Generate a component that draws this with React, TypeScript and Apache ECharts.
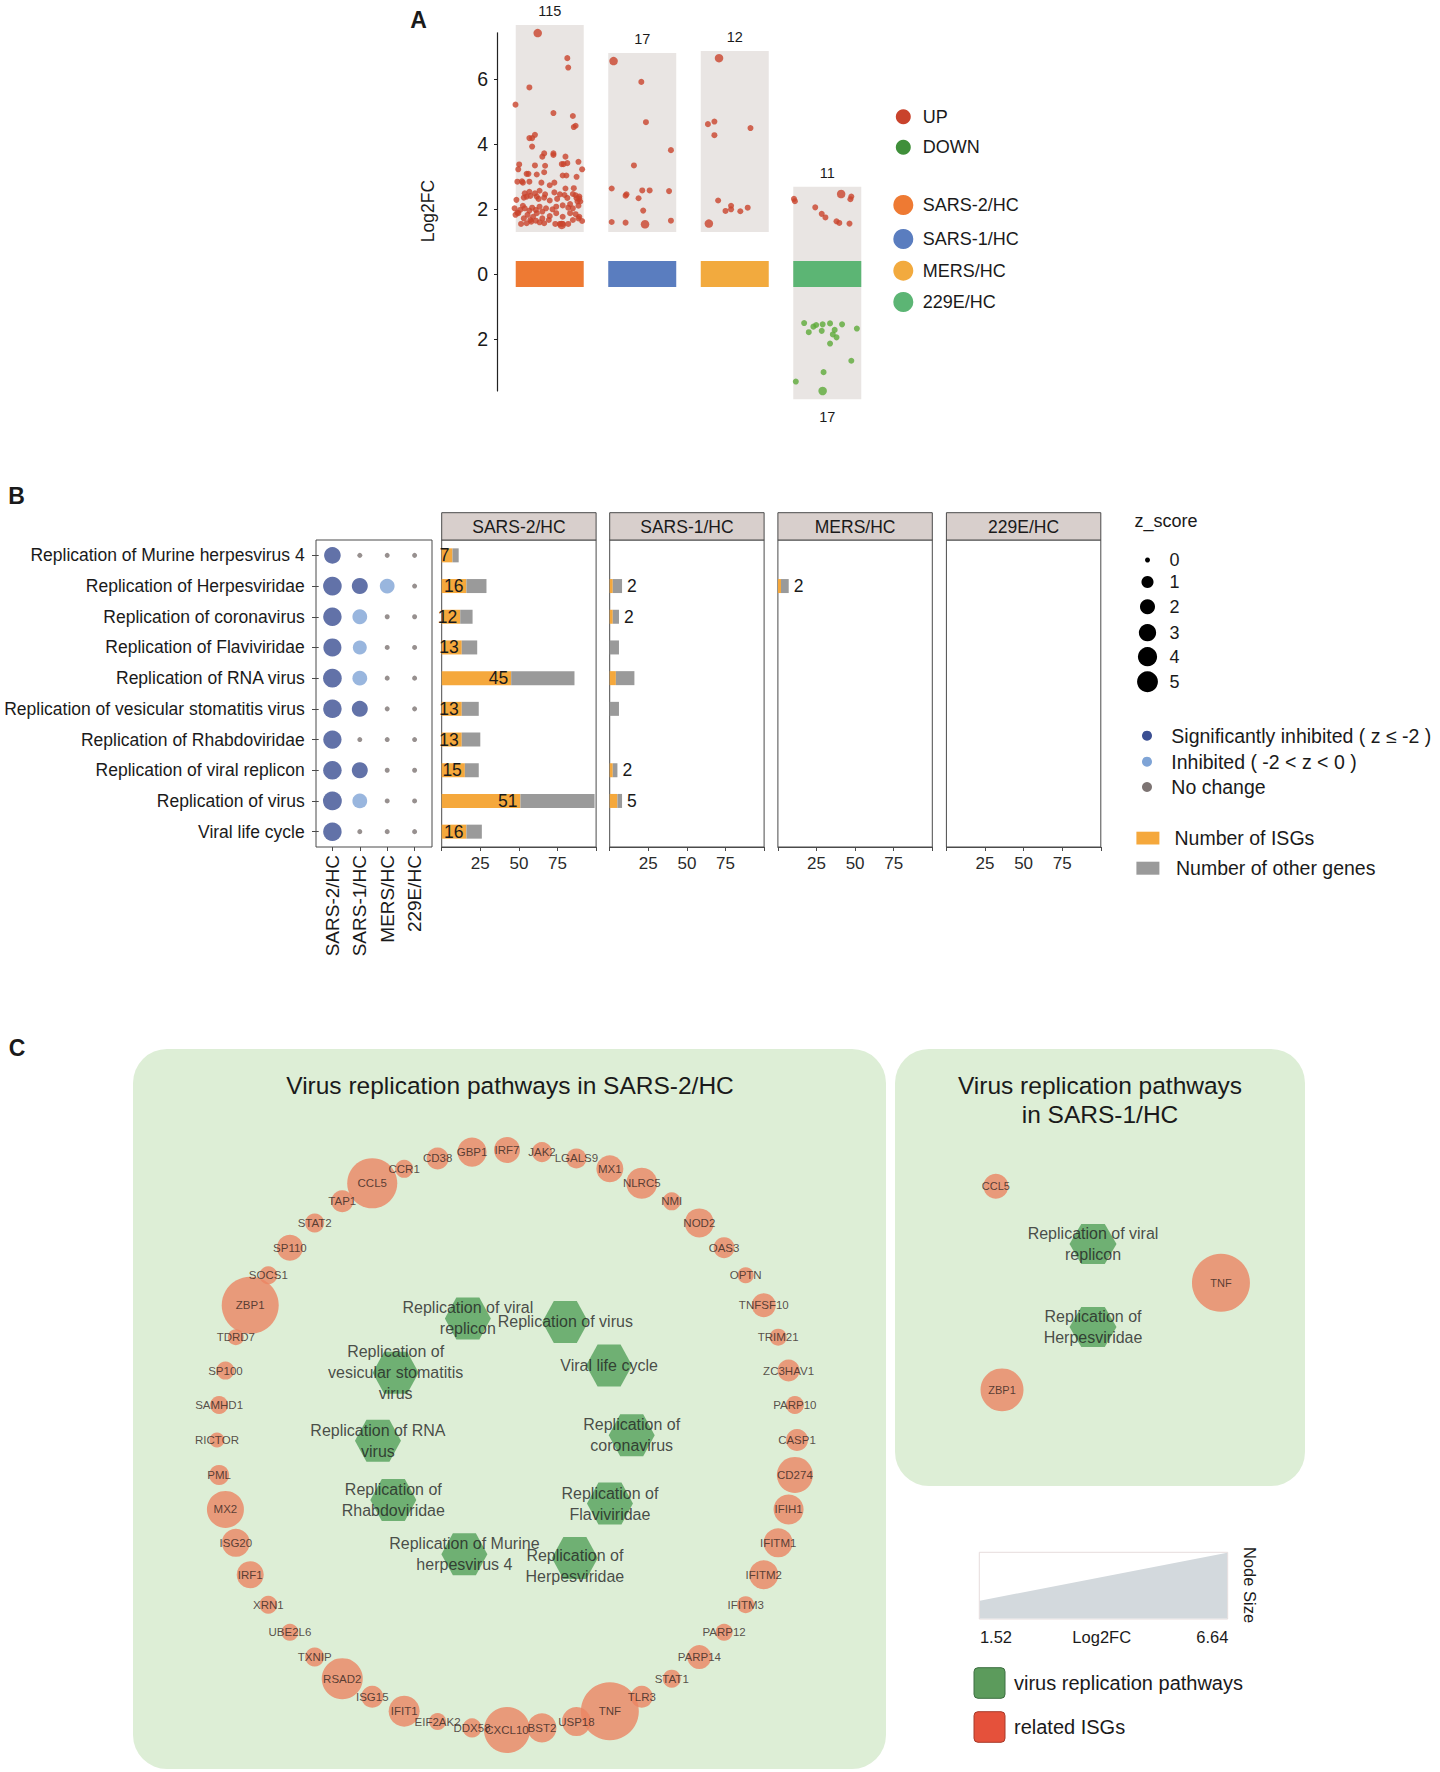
import React, { useEffect, useRef } from "react";
import * as echarts from "echarts";

const FONT = "'Liberation Sans', Arial, Helvetica, sans-serif";
const INK = "#1a1a1a";

// ---------------- Panel A data ----------------
const groups = ["SARS-2/HC", "SARS-1/HC", "MERS/HC", "229E/HC"];
const groupColors = ["#ee7a33", "#5a7dbf", "#f2aa3e", "#5cb574"];
const upCounts = [115, 17, 12, 11];
const downCounts = [0, 0, 0, 17];
const boxTop = [7.66, 6.8, 6.86, 2.68];
const boxBottom = [1.29, 1.29, 1.29, -3.85];

// [jitter, log2FC, bigDot]
const upSars2 = [
  [-0.13, 7.41, 1], [0.19, 6.64, 0], [0.2, 6.35, 0], [-0.22, 5.74, 0], [-0.37, 5.21, 0], [0.04, 4.95, 0], [0.25, 4.86, 0],
  [0.28, 4.56, 0], [0.26, 4.52, 0], [-0.22, 4.18, 0], [-0.19, 4.18, 0], [-0.16, 4.28, 0], [-0.19, 3.92, 0],
  [-0.06, 3.71, 0], [-0.08, 3.61, 0], [0.04, 3.71, 0], [0.04, 3.66, 0], [0.17, 3.61, 0], [0.31, 3.45, 0],
  [-0.33, 3.37, 0], [-0.34, 3.22, 0], [-0.16, 3.34, 0], [-0.05, 3.33, 0], [0.13, 3.38, 0], [0.15, 3.38, 0], [0.19, 3.41, 0], [0.35, 3.22, 0],
  [-0.25, 3.08, 0], [-0.23, 3.08, 0], [-0.14, 3.06, 0], [-0.06, 3.13, 0], [0.14, 3.03, 0], [0.18, 3.03, 0], [0.29, 2.99, 0],
  [-0.35, 2.84, 0], [-0.3, 2.85, 0], [-0.29, 2.81, 0], [-0.22, 2.84, 0], [-0.09, 2.81, 0], [0.0, 2.73, 0], [0.05, 2.81, 0], [0.26, 2.64, 0], [0.17, 2.63, 0],
  [-0.27, 2.48, 0], [-0.22, 2.53, 0], [-0.16, 2.48, 0], [-0.11, 2.56, 0], [-0.05, 2.45, 0], [0.05, 2.51, 0], [0.11, 2.45, 0], [0.25, 2.46, 0], [0.32, 2.38, 0],
  [-0.36, 2.28, 0], [-0.28, 2.35, 0], [-0.25, 2.38, 0], [-0.21, 2.4, 0], [-0.14, 2.38, 0], [-0.12, 2.31, 0], [-0.06, 2.35, 0], [0.0, 2.26, 0],
  [0.08, 2.31, 0], [0.16, 2.43, 0], [0.19, 2.34, 0], [0.28, 2.42, 0], [0.3, 2.23, 0], [0.32, 2.32, 0], [0.29, 2.33, 0],
  [-0.38, 2.02, 0], [-0.35, 1.89, 0], [-0.32, 1.97, 0], [-0.29, 2.1, 0], [-0.27, 2.02, 0], [-0.22, 1.95, 0], [-0.19, 2.04, 0], [-0.15, 1.97, 0],
  [-0.11, 2.07, 0], [-0.08, 1.92, 0], [-0.04, 2.02, 0], [0.03, 1.99, 0], [0.07, 2.07, 0], [0.14, 2.11, 0], [0.2, 2.04, 0], [0.22, 2.15, 0],
  [0.25, 2.02, 0], [0.31, 2.1, 0], [0.33, 2.23, 0],
  [-0.37, 1.82, 0], [-0.34, 1.87, 0], [-0.28, 1.71, 0], [-0.24, 1.82, 0], [-0.21, 1.66, 0], [-0.18, 1.76, 0], [-0.14, 1.87, 0], [-0.08, 1.71, 0],
  [0.0, 1.78, 0], [0.07, 1.87, 0], [0.14, 1.76, 0], [0.22, 1.87, 0], [0.28, 1.84, 0], [0.32, 1.76, 0],
  [-0.31, 1.54, 0], [-0.25, 1.56, 0], [-0.2, 1.61, 0], [-0.15, 1.64, 0], [-0.11, 1.59, 0], [-0.06, 1.56, 0], [-0.01, 1.66, 0], [0.06, 1.54, 0],
  [0.11, 1.54, 0], [0.13, 1.51, 1], [0.14, 1.54, 0], [0.2, 1.54, 0], [0.25, 1.66, 0], [0.31, 1.71, 0], [0.35, 1.63, 0],
];
const upSars1 = [
  [-0.31, 6.55, 1], [-0.01, 5.91, 0], [0.04, 4.67, 0], [0.31, 3.81, 0], [-0.09, 3.34, 0], [-0.33, 2.63, 0], [-0.17, 2.45, 0], [-0.18, 2.41, 0],
  [0.0, 2.57, 0], [0.08, 2.57, 0], [0.29, 2.55, 0], [-0.04, 2.33, 0], [0.01, 1.95, 0], [-0.33, 1.6, 0], [-0.18, 1.58, 0], [0.03, 1.53, 1], [0.31, 1.64, 0],
];
const upMers = [
  [-0.17, 6.64, 1], [-0.29, 4.61, 0], [-0.22, 4.69, 0], [-0.22, 4.27, 0], [0.17, 4.49, 0], [-0.18, 2.26, 0],
  [-0.1, 1.94, 0], [-0.04, 2.1, 0], [-0.04, 1.99, 0], [0.06, 1.93, 0], [0.14, 2.04, 0], [-0.28, 1.55, 1],
];
const up229e = [
  [-0.36, 2.31, 0], [-0.35, 2.24, 0], [-0.13, 2.05, 0], [-0.06, 1.85, 0], [-0.02, 1.74, 0], [0.1, 1.62, 0],
  [0.13, 1.57, 0], [0.24, 1.55, 0], [0.15, 2.46, 1], [0.26, 2.38, 0], [0.25, 2.3, 0],
];
const down229e = [
  [-0.25, -1.51, 0], [-0.2, -1.79, 0], [-0.12, -1.57, 0], [-0.06, -1.75, 0], [-0.05, -1.55, 0], [0.03, -1.52, 0], [0.08, -1.72, 0],
  [0.06, -1.86, 0], [0.1, -1.95, 0], [0.16, -1.55, 0], [0.32, -1.68, 0], [0.03, -2.14, 0], [0.26, -2.67, 0], [-0.04, -3.02, 0],
  [-0.34, -3.31, 0], [-0.05, -3.6, 1], [-0.15, -1.62, 0],
];

// ---------------- Panel B data ----------------
const rowNames = [
  "Replication of Murine herpesvirus 4", "Replication of Herpesviridae", "Replication of coronavirus", "Replication of Flaviviridae",
  "Replication of RNA virus", "Replication of vesicular stomatitis virus", "Replication of Rhabdoviridae",
  "Replication of viral replicon", "Replication of virus", "Viral life cycle",
];
const zSars2 = [-2.7, -3.7, -3.6, -3.4, -3.7, -3.6, -3.5, -3.6, -3.8, -3.6];
const zSars1 = [0, -2.4, -1.9, -1.6, -1.9, -2.4, 0, -2.4, -1.9, 0];
const zMers = [0, -1.9, 0, 0, 0, 0, 0, 0, 0, 0];
const z229e = [0, 0, 0, 0, 0, 0, 0, 0, 0, 0];
const zLegend = [0, 1, 2, 3, 4, 5];

const isgSars2 = [7, 16, 12, 13, 45, 13, 13, 15, 51, 16];
const otherSars2 = [4, 13, 8, 10, 41, 11, 12, 9, 48, 10];
const isgSars1 = [0, 2, 2, 0, 4, 0, 0, 2, 5, 0];
const otherSars1 = [0, 6, 4, 6, 12, 6, 0, 3, 3, 0];
const labelledSars1 = [false, true, true, false, false, false, false, true, true, false];
const isgMers = [0, 2, 0, 0, 0, 0, 0, 0, 0, 0];
const otherMers = [0, 5, 0, 0, 0, 0, 0, 0, 0, 0];
const labelledMers = [false, true, false, false, false, false, false, false, false, false];
const isg229e = [0, 0, 0, 0, 0, 0, 0, 0, 0, 0];
const other229e = [0, 0, 0, 0, 0, 0, 0, 0, 0, 0];
const barTicks = [25, 50, 75];

// ---------------- Panel C data ----------------
const ringGenes = [
  "IRF7", "JAK2", "LGALS9", "MX1", "NLRC5", "NMI", "NOD2", "OAS3", "OPTN", "TNFSF10", "TRIM21", "ZC3HAV1", "PARP10",
  "CASP1", "CD274", "IFIH1", "IFITM1", "IFITM2", "IFITM3", "PARP12", "PARP14", "STAT1", "TLR3", "TNF", "USP18", "BST2",
  "CXCL10", "DDX58", "EIF2AK2", "IFIT1", "ISG15", "RSAD2", "TXNIP", "UBE2L6", "XRN1", "IRF1", "ISG20", "MX2", "PML",
  "RICTOR", "SAMHD1", "SP100", "TDRD7", "ZBP1", "SOCS1", "SP110", "STAT2", "TAP1", "CCL5", "CCR1", "CD38", "GBP1",
];
const ringFC = [
  2.83, 2.12, 2.12, 2.95, 3.43, 1.88, 3.19, 2.23, 1.64, 2.59, 1.76, 2.35, 1.88,
  2.35, 4.02, 3.31, 3.19, 3.19, 1.76, 1.76, 2.59, 1.88, 2.35, 6.64, 3.19, 3.19,
  5.21, 2.0, 1.76, 3.43, 2.35, 4.62, 2.0, 1.76, 1.88, 2.95, 3.07, 4.14, 2.12,
  1.52, 1.88, 1.88, 1.64, 6.52, 1.88, 2.83, 2.0, 2.35, 5.69, 1.88, 2.35, 3.19,
];
// pathway layout positions (ring radius = 1, centre = 0)
const pathX = [-0.147, 0.234, 0.43, 0.355, -0.445, -0.384, -0.392, -0.135, 0.201, 0.352];
const pathY = [-0.394, -0.407, 0.016, -0.219, -0.003, 0.232, -0.207, 0.419, 0.407, 0.257];
const pathLabels = [
  "Replication of Murine\nherpesvirus 4", "Replication of\nHerpesviridae", "Replication of\ncoronavirus", "Replication of\nFlaviviridae",
  "Replication of RNA\nvirus", "Replication of\nvesicular stomatitis\nvirus", "Replication of\nRhabdoviridae",
  "Replication of viral\nreplicon", "Replication of virus", "Viral life cycle",
];
const s1Genes = ["CCL5", "TNF", "ZBP1"];
const s1FC = [2.71, 6.64, 4.85];
const s1X = [0.246, 0.795, 0.261];
const s1Y = [0.314, 0.535, 0.78];
const s1Paths = ["Replication of viral\nreplicon", "Replication of\nHerpesviridae"];
const s1PathX = [0.483, 0.483];
const s1PathY = [0.446, 0.636];
const fcRange = [1.52, 6.64];

// ---------------- helpers ----------------
const HEX = "path://M0,0.866L0.5,0L1.5,0L2,0.866L1.5,1.732L0.5,1.732Z";
const nodeSize = (fc: number) => 15 + ((fc - fcRange[0]) / (fcRange[1] - fcRange[0])) * 43;
const dotSize = (z: number) => 5 + 7.1 * Math.sqrt(Math.abs(z));
const zColor = (z: number) => (z <= -2 ? "#3b4f92" : z < 0 ? "#7fa4d6" : "#7d7473");

const txt = (x: number, y: number, text: string, size: number, o: any = {}) => ({
  type: "text",
  x,
  y,
  z: 100,
  rotation: o.rotation || 0,
  style: {
    text,
    fill: o.color || INK,
    fontSize: size,
    fontFamily: FONT,
    fontWeight: o.weight || "normal",
    align: o.align || "left",
    textAlign: o.align || "left",
    verticalAlign: "middle",
    textVerticalAlign: "middle",
  },
});

export default function App() {
  const ref = useRef<HTMLDivElement>(null);
  useEffect(() => {
    document.body.style.margin = "0";
    if (!ref.current) return;
    const chart = echarts.init(ref.current, undefined, { renderer: "svg" });

    const BOX_W = 0.735;
    const panelLefts = [441.7, 609.7, 777.9, 946.4];
    const panelW = 154.4;
    const bTop = 540;
    const bH = 307;
    const lineC = "#4a4a4a";
    const dotLeft = 318.7, dotW = 109.6; // column centres; frame drawn 316..432

    const upSets = [upSars2, upSars1, upMers, up229e];
    const upData = upSets.flatMap((set, c) => set.map(([j, v, b]) => [c + j, v, b]));
    const downData = down229e.map(([j, v, b]) => [3 + j, v, b]);

    const zByGroup = [zSars2, zSars1, zMers, z229e];
    const dotData = zByGroup.flatMap((zs, c) =>
      zs.map((z, r) => ({ value: [c, r, z], itemStyle: { color: zColor(z) } }))
    );

    const barPanels = [
      { isg: isgSars2, other: otherSars2, inside: true, labelled: isgSars2.map(() => true) },
      { isg: isgSars1, other: otherSars1, inside: false, labelled: labelledSars1 },
      { isg: isgMers, other: otherMers, inside: false, labelled: labelledMers },
      { isg: isg229e, other: other229e, inside: false, labelled: isg229e.map(() => false) },
    ];

    const ringCx = 507, ringCy = 1440, ringR = 290;

    const xAxes: any[] = [
      { gridIndex: 0, type: "value", min: -0.57, max: 3.57, show: false },
      {
        gridIndex: 1, type: "category", data: groups,
        axisLine: { show: false, onZero: false },
        axisTick: { show: true, alignWithLabel: true, length: 4, lineStyle: { color: lineC } },
        axisLabel: { rotate: 90, fontSize: 19, color: INK, margin: 8, fontFamily: FONT },
      },
      ...panelLefts.map((_, p) => ({
        gridIndex: p + 2, type: "value", min: 0, max: 100, interval: 25,
        axisLine: { show: true, onZero: false, lineStyle: { color: lineC } },
        axisTick: { show: true, length: 4, lineStyle: { color: lineC } },
        axisLabel: {
          fontSize: 17, color: "#2a2a2a", margin: 8, fontFamily: FONT,
          formatter: (v: number) => (barTicks.includes(v) ? String(v) : ""),
        },
        splitLine: { show: false },
      })),
      { gridIndex: 6, type: "value", min: -1.1, max: 1.1, show: false },
      { gridIndex: 7, type: "value", min: 0, max: 1, show: false },
    ];
    const yAxes: any[] = [
      {
        gridIndex: 0, type: "value", min: -3.6, max: 7.42, splitNumber: 5,
        axisLine: { show: true, onZero: false, lineStyle: { color: "#222", width: 1.2 } },
        axisTick: { show: true, length: 3, lineStyle: { color: "#222" } },
        axisLabel: {
          fontSize: 19.5, color: INK, margin: 9, fontFamily: FONT, showMinLabel: false, showMaxLabel: false,
          formatter: (v: number) => (Number.isInteger(v) ? String(Math.abs(v)) : ""),
        },
        splitLine: { show: false },
      },
      {
        gridIndex: 1, type: "category", data: rowNames, inverse: true,
        axisLine: { show: false, onZero: false },
        axisTick: { show: true, alignWithLabel: true, length: 6.7, lineStyle: { color: lineC } },
        axisLabel: { fontSize: 17.5, color: INK, margin: 14, fontFamily: FONT },
      },
      ...panelLefts.map((_, p) => ({ gridIndex: p + 2, type: "category", data: rowNames, inverse: true, show: false })),
      { gridIndex: 6, type: "value", min: -1.1, max: 1.1, show: false },
      { gridIndex: 7, type: "value", min: 0, max: 1, inverse: true, show: false },
    ];

    const series: any[] = [
      {
        type: "custom", xAxisIndex: 0, yAxisIndex: 0, clip: false, z: 1, silent: true,
        data: groups.map((g, i) => [i, boxBottom[i], boxTop[i], upCounts[i], downCounts[i]]),
        renderItem: (params: any, api: any) => {
          const c = api.value(0);
          const p1 = api.coord([c - BOX_W / 2, api.value(2)]);
          const p2 = api.coord([c + BOX_W / 2, api.value(1)]);
          const tStyle = (t: string) => ({
            text: t, fill: INK, fontSize: 14.5, fontFamily: FONT,
            align: "center", textAlign: "center", verticalAlign: "middle", textVerticalAlign: "middle",
          });
          const children: any[] = [
            { type: "rect", shape: { x: p1[0], y: p1[1], width: p2[0] - p1[0], height: p2[1] - p1[1] }, style: { fill: "#e9e5e3" } },
            { type: "text", x: (p1[0] + p2[0]) / 2, y: p1[1] - 14, style: tStyle(String(api.value(3))) },
          ];
          if (api.value(4) > 0) {
            children.push({ type: "text", x: (p1[0] + p2[0]) / 2, y: p2[1] + 18, style: tStyle(String(api.value(4))) });
          }
          return { type: "group", children };
        },
      },
      {
        type: "custom", xAxisIndex: 0, yAxisIndex: 0, clip: false, z: 2, silent: true,
        data: groups.map((g, i) => [i, -0.4, 0.4]),
        renderItem: (params: any, api: any) => {
          const c = api.value(0);
          const p1 = api.coord([c - BOX_W / 2, api.value(2)]);
          const p2 = api.coord([c + BOX_W / 2, api.value(1)]);
          return {
            type: "rect",
            shape: { x: p1[0], y: p1[1], width: p2[0] - p1[0], height: p2[1] - p1[1] },
            style: { fill: groupColors[params.dataIndex] },
          };
        },
      },
      {
        name: "UP", type: "scatter", xAxisIndex: 0, yAxisIndex: 0, data: upData, clip: false, z: 3,
        symbolSize: (v: number[]) => (v[2] ? 8.5 : 6), itemStyle: { color: "#c9432c" },
      },
      {
        name: "DOWN", type: "scatter", xAxisIndex: 0, yAxisIndex: 0, data: downData, clip: false, z: 3,
        symbolSize: (v: number[]) => (v[2] ? 8.5 : 6), itemStyle: { color: "#5daa38" },
      },
      {
        type: "scatter", xAxisIndex: 1, yAxisIndex: 1, data: dotData, z: 3, clip: false,
        symbolSize: (v: number[]) => dotSize(v[2]),
      },
      ...barPanels.flatMap((b, p) => [
        {
          type: "bar", xAxisIndex: p + 2, yAxisIndex: p + 2, stack: "s" + p, data: b.isg, barWidth: 14,
          itemStyle: { color: "#f5a83c" },
          label: b.inside
            ? { show: true, position: "insideRight", distance: 3, color: INK, fontSize: 17.5, fontFamily: FONT }
            : { show: false },
        },
        {
          type: "bar", xAxisIndex: p + 2, yAxisIndex: p + 2, stack: "s" + p, data: b.other, barWidth: 14,
          itemStyle: { color: "#9a9a9a" },
          label: !b.inside
            ? {
                show: true, position: "right", distance: 5, color: INK, fontSize: 17.5, fontFamily: FONT,
                formatter: (q: any) => (b.labelled[q.dataIndex] ? String(b.isg[q.dataIndex]) : ""),
              }
            : { show: false },
        },
      ]),
      {
        type: "scatter", coordinateSystem: "polar", polarIndex: 0, z: 3,
        data: ringGenes.map((g, i) => ({ name: g, value: [1, i], symbolSize: nodeSize(ringFC[i]) })),
        itemStyle: { color: "#eb8463" },
        label: { show: true, position: "inside", formatter: "{b}", fontSize: 11.5, color: "#33251f", fontFamily: FONT },
      },
      {
        type: "scatter", xAxisIndex: 6, yAxisIndex: 6, z: 4, symbol: HEX, symbolSize: [46, 42],
        data: rowNames.map((n, i) => ({
          name: n, value: [pathX[i], pathY[i]],
          label: i === 1 ? { offset: [0, 8] } : {},
        })),
        itemStyle: { color: "#54a05a" },
        label: {
          show: true, position: "inside", fontSize: 16, lineHeight: 21, color: "#222", fontFamily: FONT,
          formatter: (p: any) => pathLabels[p.dataIndex],
        },
      },
      {
        type: "scatter", xAxisIndex: 7, yAxisIndex: 7, z: 3,
        data: s1Genes.map((g, i) => ({ name: g, value: [s1X[i], s1Y[i]], symbolSize: nodeSize(s1FC[i]) })),
        itemStyle: { color: "#eb8463" },
        label: { show: true, position: "inside", formatter: "{b}", fontSize: 11, color: "#33251f", fontFamily: FONT },
      },
      {
        type: "scatter", xAxisIndex: 7, yAxisIndex: 7, z: 4, symbol: HEX, symbolSize: [47, 40],
        data: s1Paths.map((n, i) => ({ name: n, value: [s1PathX[i], s1PathY[i]] })),
        itemStyle: { color: "#54a05a" },
        label: {
          show: true, position: "inside", fontSize: 16, lineHeight: 21, color: "#222", fontFamily: FONT,
          formatter: (p: any) => s1Paths[p.dataIndex],
        },
      },
    ];

    // ---------- graphic (labels, legends, backgrounds) ----------
    const g: any[] = [];
    g.push(txt(418.5, 20, "A", 23, { weight: "bold", align: "center" }));
    g.push(txt(16.5, 496, "B", 23, { weight: "bold", align: "center" }));
    g.push(txt(17, 1048, "C", 23, { weight: "bold", align: "center" }));
    g.push(txt(428, 211, "Log2FC", 17.5, { rotation: Math.PI / 2, align: "center" }));

    // legend A
    const legAY = [116.7, 147.3, 205, 239, 270.7, 302];
    const legALabels = ["UP", "DOWN", ...groups];
    const legAColors = ["#c9432c", "#3f8f3a", ...groupColors];
    legALabels.forEach((l, i) => {
      g.push({ type: "circle", z: 100, shape: { cx: 903.3, cy: legAY[i], r: i < 2 ? 7.5 : 10 }, style: { fill: legAColors[i] } });
      g.push(txt(922.7, legAY[i], l, 18));
    });

    // dot-plot frame
    g.push({ type: "rect", z: 50, shape: { x: 316, y: bTop, width: 116, height: bH }, style: { fill: "none", stroke: lineC, lineWidth: 1 } });

    // strip headers
    panelLefts.forEach((l, i) => {
      g.push({ type: "rect", z: 50, shape: { x: l, y: 512.7, width: panelW, height: bTop - 512.7 }, style: { fill: "#d8cfcc", stroke: lineC, lineWidth: 1 } });
      g.push(txt(l + panelW / 2, 526.5, groups[i], 17.5, { align: "center" }));
    });

    // legend B
    g.push(txt(1134.6, 520.7, "z_score", 18));
    const zLegY = [560, 582, 606.7, 632.7, 656.7, 681.7];
    zLegend.forEach((z, i) => {
      g.push({ type: "circle", z: 100, shape: { cx: 1147.5, cy: zLegY[i], r: dotSize(z) / 2 }, style: { fill: "#000" } });
      g.push(txt(1169.5, zLegY[i], String(z), 18));
    });
    const colLeg = [
      ["Significantly inhibited ( z \u2264 -2 )", zColor(-3)],
      ["Inhibited ( -2 < z < 0 )", zColor(-1)],
      ["No change", zColor(0)],
    ];
    const colLegY = [735.7, 761.7, 787];
    colLeg.forEach(([l, c], i) => {
      g.push({ type: "circle", z: 100, shape: { cx: 1147, cy: colLegY[i], r: 5 }, style: { fill: c } });
      g.push(txt(1171.3, colLegY[i], l, 19.5));
    });
    g.push({ type: "rect", z: 100, shape: { x: 1136.4, y: 831.7, width: 23, height: 12.8 }, style: { fill: "#f5a83c" } });
    g.push(txt(1174.5, 837.7, "Number of ISGs", 19.5));
    g.push({ type: "rect", z: 100, shape: { x: 1136.4, y: 861.7, width: 23, height: 13 }, style: { fill: "#9a9a9a" } });
    g.push(txt(1176, 868, "Number of other genes", 19.5));

    // panel C backgrounds and titles
    g.push({ type: "rect", z: -5, shape: { x: 133, y: 1049, width: 753, height: 720, r: 34 }, style: { fill: "#ddeed6" } });
    g.push({ type: "rect", z: -5, shape: { x: 895, y: 1049, width: 410, height: 437, r: 34 }, style: { fill: "#ddeed6" } });
    g.push(txt(510, 1085, "Virus replication pathways in SARS-2/HC", 24.5, { align: "center" }));
    g.push(txt(1100, 1085, "Virus replication pathways", 24.5, { align: "center" }));
    g.push(txt(1100, 1114, "in SARS-1/HC", 24.5, { align: "center" }));

    // node size legend
    g.push({ type: "rect", z: 10, shape: { x: 979.3, y: 1552.3, width: 248.4, height: 66.7 }, style: { fill: "#ffffff", stroke: "#e6dcdc", lineWidth: 1 } });
    g.push({
      type: "polygon", z: 11,
      shape: { points: [[979.8, 1618.5], [979.8, 1600.7], [1227.2, 1552.8], [1227.2, 1618.5]] },
      style: { fill: "#d3d9dd" },
    });
    g.push(txt(996, 1636.7, fcRange[0].toFixed(2), 16.5, { align: "center" }));
    g.push(txt(1101.7, 1636.7, "Log2FC", 16.5, { align: "center" }));
    g.push(txt(1212.3, 1636.7, fcRange[1].toFixed(2), 16.5, { align: "center" }));
    g.push(txt(1250, 1585, "Node Size", 16.5, { rotation: -Math.PI / 2, align: "center" }));
    g.push({ type: "rect", z: 100, shape: { x: 974, y: 1667.7, width: 31, height: 30.6, r: 4 }, style: { fill: "#5c9b5c", stroke: "#3d6e42", lineWidth: 1 } });
    g.push(txt(1014, 1682.7, "virus replication pathways", 20));
    g.push({ type: "rect", z: 100, shape: { x: 974, y: 1711.7, width: 31, height: 30.6, r: 4 }, style: { fill: "#e5513b", stroke: "#a83a2a", lineWidth: 1 } });
    g.push(txt(1014, 1726.7, "related ISGs", 20));

    const option: any = {
      animation: false,
      textStyle: { fontFamily: FONT },
      grid: [
        { left: 497, top: 32.8, width: 383, height: 358.2 },
        { left: dotLeft, top: bTop, width: dotW, height: bH },
        ...panelLefts.map((l) => ({ left: l, top: bTop, width: panelW, height: bH, show: true, borderColor: lineC, borderWidth: 1, backgroundColor: "transparent" })),
        { left: ringCx - ringR * 1.1, top: ringCy - ringR * 1.1, width: ringR * 2.2, height: ringR * 2.2 },
        { left: 895, top: 1049, width: 410, height: 437 },
      ],
      xAxis: xAxes,
      yAxis: yAxes,
      polar: { center: [ringCx, ringCy], radius: [0, ringR] },
      angleAxis: { type: "category", data: ringGenes, startAngle: 90, clockwise: true, boundaryGap: false, show: false },
      radiusAxis: { type: "value", min: 0, max: 1, show: false },
      series,
      graphic: { elements: g },
    };
    chart.setOption(option);
    return () => chart.dispose();
  }, []);
  return <div ref={ref} style={{ width: 1440, height: 1772 }} />;
}
